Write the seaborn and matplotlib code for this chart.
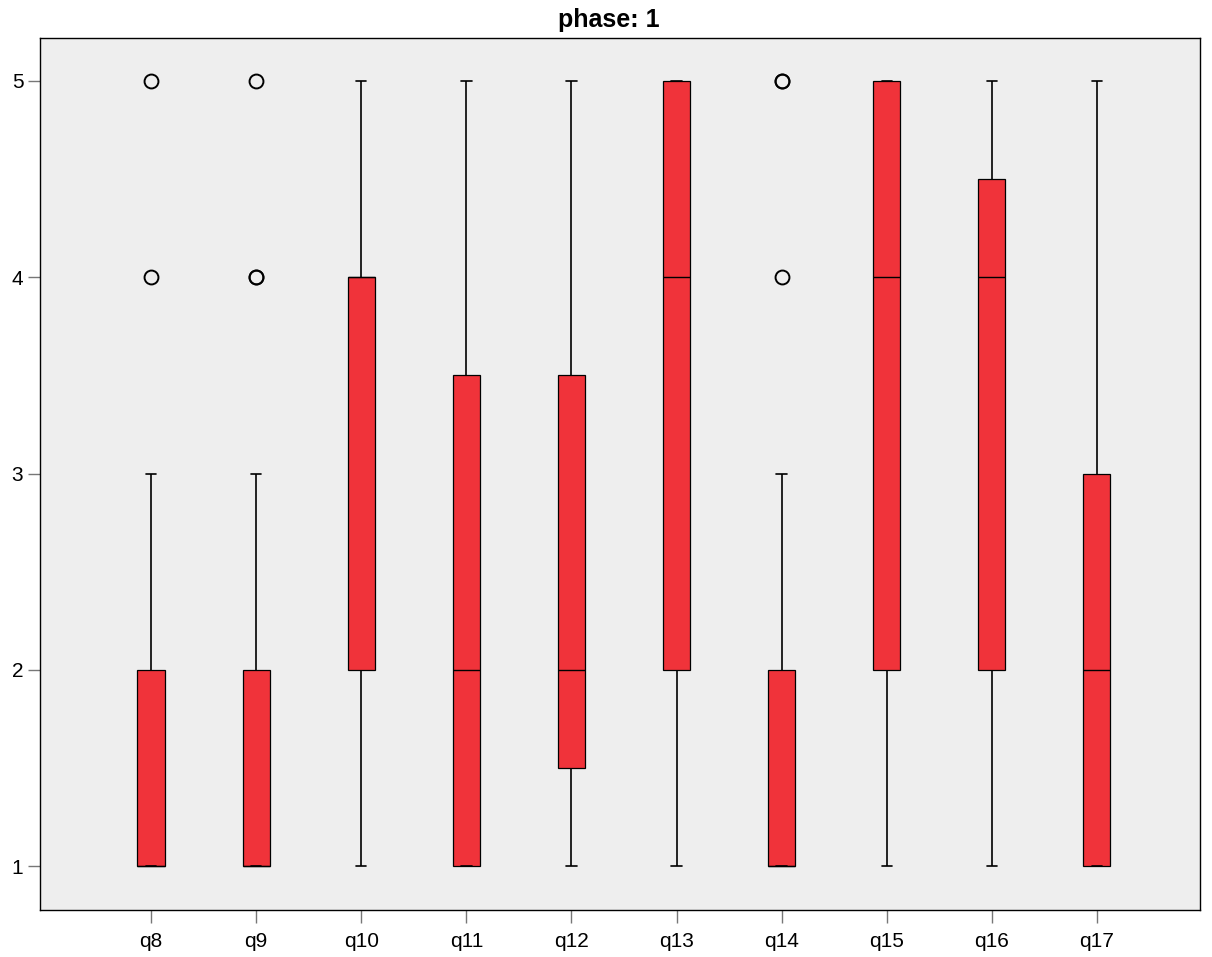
import numpy as np
import pandas as pd
import matplotlib
matplotlib.use("Agg")
import matplotlib.pyplot as plt
import seaborn as sns

# Likert responses (1-5): number of respondents choosing each level, per item
levels = [1, 2, 3, 4, 5]
questions = ["q8", "q9", "q10", "q11", "q12", "q13", "q14", "q15", "q16", "q17"]
counts_q8 = [12, 8, 1, 1, 1]
counts_q9 = [12, 7, 1, 2, 1]
counts_q10 = [1, 6, 4, 7, 5]
counts_q11 = [7, 5, 5, 3, 3]
counts_q12 = [6, 6, 5, 3, 3]
counts_q13 = [1, 6, 4, 5, 7]
counts_q14 = [12, 7, 1, 1, 2]
counts_q15 = [2, 5, 3, 6, 7]
counts_q16 = [1, 6, 3, 7, 6]
counts_q17 = [7, 5, 6, 2, 3]

all_counts = [counts_q8, counts_q9, counts_q10, counts_q11, counts_q12,
              counts_q13, counts_q14, counts_q15, counts_q16, counts_q17]

rows = []
for q, cnts in zip(questions, all_counts):
    for lv, c in zip(levels, cnts):
        rows.extend([(q, lv)] * c)
df = pd.DataFrame(rows, columns=["question", "value"])

sns.set_theme(style="white")
plt.rcParams["font.family"] = ["Liberation Sans", "DejaVu Sans"]
plt.rcParams["text.color"] = "black"

fig = plt.figure(figsize=(12.12, 9.57), dpi=100)
ax = fig.add_axes([40 / 1212, 47 / 957, 1160 / 1212, 872 / 957])
ax.set_facecolor("#eeeeee")

sns.boxplot(
    data=df, x="question", y="value", order=questions, ax=ax,
    color="#f0333a", saturation=1, width=0.257, whis=1.5,
    linecolor="black", linewidth=0.9,
    boxprops=dict(edgecolor="black", linewidth=0.9),
    medianprops=dict(color="black", linewidth=1.0),
    whiskerprops=dict(color="black", linewidth=1.2),
    capprops=dict(color="black", linewidth=1.2),
    flierprops=dict(marker="o", markersize=10, markerfacecolor="none",
                    markeredgecolor="black", markeredgewidth=1.4),
    capwidths=0.1,
)

ax.set_xlim(-1.056, 9.98)
ax.set_ylim(0.776, 5.219)
ax.set_yticks([1, 2, 3, 4, 5])
ax.set_yticklabels(["1", "2", "3", "4", "5"])
ax.set_xlabel("")
ax.set_ylabel("")

for side in ["left", "right", "top", "bottom"]:
    ax.spines[side].set_visible(True)
    ax.spines[side].set_color("black")
    ax.spines[side].set_linewidth(1.0)

ax.tick_params(axis="both", which="major", direction="out", length=9,
               width=1.0, color="#777777", labelsize=15, labelcolor="black",
               left=True, bottom=True, pad=3)
ax.tick_params(axis="x", pad=7)

fig.text(609 / 1212, 1 - 20 / 957, "phase: 1", ha="center", va="center",
         fontsize=18, fontweight="bold", color="black")

fig.savefig("out.png", dpi=100, facecolor="white")
